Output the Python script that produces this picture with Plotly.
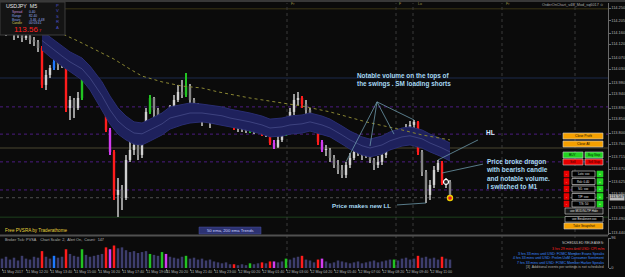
import plotly.graph_objects as go

W, H = 625, 277
def X(px): return px / W
def Y(py): return 1 - py / H

# ---------------- data ----------------
open_first = 114.189
close = [114.178, 114.164, 114.171, 114.153, 114.160, 114.142, 114.149, 114.135, 114.128, 114.106,
         113.973, 114.009, 114.034, 114.056, 114.045, 114.056, 113.890, 113.919, 113.890, 113.926,
         114.016, 114.009, 113.991, 113.962, 113.937, 113.912, 113.811, 113.732, 113.577, 113.595,
         113.566, 113.703, 113.739, 113.757, 113.721, 113.775, 113.876, 113.926, 113.883, 113.811,
         113.861, 113.822, 113.883, 113.919, 113.948, 113.937, 113.969, 113.919, 113.890, 113.876,
         113.847, 113.876, 113.847, 113.854, 113.865, 113.876, 113.865, 113.847, 113.818, 113.829,
         113.818, 113.807, 113.822, 113.811, 113.829, 113.796, 113.804, 113.764, 113.750, 113.775,
         113.800, 113.840, 113.876, 113.919, 113.926, 113.904, 113.883, 113.854, 113.829, 113.768,
         113.739, 113.739, 113.710, 113.685, 113.667, 113.649, 113.685, 113.710, 113.732, 113.739,
         113.721, 113.746, 113.703, 113.685, 113.696, 113.721, 113.746, 113.757, 113.786, 113.775,
         113.804, 113.818, 113.829, 113.840, 113.732, 113.660, 113.577, 113.613, 113.667, 113.692,
         113.620, 113.624, 113.570]
high = [114.200, 114.189, 114.185, 114.178, 114.171, 114.164, 114.160, 114.156, 114.146, 114.135,
        114.113, 114.027, 114.045, 114.070, 114.063, 114.070, 114.063, 113.933, 113.926, 113.948,
        114.045, 114.056, 114.027, 113.998, 113.973, 113.948, 113.919, 113.818, 113.739, 113.638,
        113.613, 113.721, 113.775, 113.782, 113.768, 113.793, 113.890, 113.937, 113.930, 113.890,
        113.872, 113.868, 113.901, 113.937, 113.973, 113.991, 114.016, 113.976, 113.926, 113.908,
        113.883, 113.890, 113.883, 113.872, 113.890, 113.894, 113.883, 113.876, 113.858, 113.847,
        113.840, 113.840, 113.832, 113.832, 113.847, 113.840, 113.818, 113.811, 113.775, 113.789,
        113.811, 113.854, 113.890, 113.940, 113.948, 113.933, 113.919, 113.890, 113.865, 113.847,
        113.775, 113.757, 113.746, 113.721, 113.703, 113.685, 113.696, 113.728, 113.750, 113.757,
        113.746, 113.760, 113.753, 113.710, 113.717, 113.739, 113.760, 113.775, 113.796, 113.800,
        113.818, 113.832, 113.843, 113.847, 113.843, 113.739, 113.667, 113.631, 113.681, 113.703,
        113.699, 113.638, 113.631]
low = [114.160, 114.149, 114.153, 114.135, 114.142, 114.128, 114.135, 114.120, 114.113, 114.092,
       113.962, 113.955, 113.998, 114.027, 114.027, 114.034, 113.876, 113.847, 113.854, 113.883,
       113.919, 113.991, 113.973, 113.944, 113.919, 113.890, 113.804, 113.721, 113.559, 113.498,
       113.523, 113.559, 113.696, 113.721, 113.703, 113.710, 113.768, 113.868, 113.854, 113.804,
       113.796, 113.814, 113.818, 113.876, 113.912, 113.926, 113.930, 113.901, 113.865, 113.854,
       113.825, 113.840, 113.818, 113.832, 113.847, 113.854, 113.847, 113.832, 113.811, 113.804,
       113.804, 113.800, 113.800, 113.796, 113.804, 113.789, 113.786, 113.757, 113.742, 113.746,
       113.768, 113.789, 113.829, 113.865, 113.901, 113.890, 113.868, 113.840, 113.818, 113.757,
       113.732, 113.717, 113.696, 113.674, 113.652, 113.638, 113.638, 113.674, 113.703, 113.717,
       113.703, 113.710, 113.692, 113.667, 113.674, 113.685, 113.710, 113.739, 113.750, 113.757,
       113.764, 113.793, 113.807, 113.818, 113.721, 113.645, 113.548, 113.559, 113.602, 113.660,
       113.613, 113.602, 113.566]
volume = [30, 36, 27, 33, 24, 39, 30, 27, 36, 33,
          54, 36, 30, 39, 33, 36, 60, 45, 39, 36,
          60, 42, 36, 39, 42, 45, 66, 60, 72, 63,
          66, 57, 51, 54, 48, 51, 54, 45, 42, 39,
          51, 45, 36, 33, 30, 36, 39, 30, 33, 27,
          30, 24, 27, 21, 18, 15, 18, 12, 12, 9,
          12, 9, 15, 12, 15, 18, 15, 21, 21, 18,
          21, 30, 27, 33, 36, 39, 27, 24, 18, 27,
          30, 21, 15, 18, 24, 21, 18, 15, 18, 21,
          15, 18, 21, 24, 18, 21, 24, 27, 27, 24,
          30, 33, 27, 30, 39, 33, 36, 30, 33, 27,
          36, 30, 27]
red_idx = [10, 16, 26, 28, 58, 65, 67, 75, 79, 104, 110]
magenta_idx = [27, 41, 68, 80]
blue_idx = [13]
green_idx = [20, 37, 40, 46, 62, 71, 98]

dragon_idx = [10, 12, 15, 17, 20, 22, 25, 27, 29, 31, 33, 35, 37, 40, 42, 45, 47, 50, 52, 55,
              57, 60, 62, 65, 67, 70, 72, 75, 77, 80, 82, 85, 87, 90, 92, 95, 97, 100, 102, 105,
              107, 110, 112]
dragon_top = [114.167, 114.146, 114.113, 114.092, 114.070, 114.041, 113.984, 113.933, 113.890, 113.861,
              113.840, 113.836, 113.850, 113.872, 113.894, 113.901, 113.908, 113.904, 113.901, 113.894,
              113.886, 113.879, 113.872, 113.861, 113.850, 113.854, 113.861, 113.865, 113.872, 113.861,
              113.850, 113.825, 113.807, 113.786, 113.778, 113.789, 113.804, 113.818, 113.822, 113.811,
              113.796, 113.778, 113.764]
dragon_bot = [114.099, 114.074, 114.041, 114.020, 113.991, 113.955, 113.883, 113.832, 113.796, 113.775,
              113.760, 113.757, 113.771, 113.793, 113.814, 113.829, 113.836, 113.840, 113.836, 113.829,
              113.822, 113.814, 113.807, 113.796, 113.786, 113.789, 113.796, 113.800, 113.807, 113.796,
              113.786, 113.760, 113.742, 113.721, 113.714, 113.724, 113.739, 113.753, 113.757, 113.746,
              113.732, 113.714, 113.699]
dragon_mid = [114.133, 114.110, 114.077, 114.056, 114.031, 113.998, 113.934, 113.883, 113.843, 113.818,
              113.800, 113.797, 113.811, 113.833, 113.854, 113.865, 113.872, 113.872, 113.869, 113.862,
              113.854, 113.847, 113.840, 113.829, 113.818, 113.822, 113.829, 113.833, 113.840, 113.829,
              113.818, 113.793, 113.775, 113.754, 113.746, 113.757, 113.772, 113.786, 113.790, 113.779,
              113.764, 113.746, 113.732]
ema200_idx = [14, 19, 24, 28, 32, 35, 40, 45, 50, 54, 62, 70, 75, 82, 91, 100, 105, 112]
ema200 = [114.164, 114.131, 114.095, 114.066, 114.030, 114.005, 113.984, 113.969, 113.962, 113.948,
          113.926, 113.908, 113.897, 113.876, 113.840, 113.811, 113.793, 113.775]

price_ticks = [114.250, 114.205, 114.160, 114.120, 114.070, 114.030, 113.980, 113.940, 113.890, 113.850,
               113.800, 113.760, 113.715, 113.670, 113.625, 113.580, 113.530, 113.490, 113.440]
time_labels = ["11 May 2017", "11 May 12:20", "11 May 13:40", "11 May 15:00", "11 May 16:20",
               "11 May 17:40", "11 May 19:00", "11 May 20:20", "11 May 21:40", "11 May 23:00",
               "12 May 00:20", "12 May 01:40", "12 May 03:00", "12 May 04:20", "12 May 05:40",
               "12 May 07:00", "12 May 08:20", "12 May 09:40", "12 May 11:00"]
tick_idx = [0, 6, 12, 18, 24, 30, 36, 41, 47, 53, 59, 65, 71, 77, 83, 89, 95, 101, 107]
bid_price = 113.567
purple_levels = [113.894, 113.796, 113.696, 113.595]
session_lines = [71.25, 98.5, 102.75, 125, 143.25]
swing_idx = [86, 92, 98, 103]

# ---------------- derived drawing arrays ----------------
n = len(close)
xs = list(range(n))
opens = [open_first] + close[:-1]
COL = {'r': '#ff1c1c', 'm': '#d23cf0', 'b': '#1e78ff', 'g': '#22c322'}
cls = ['n'] * n
for i in red_idx: cls[i] = 'r'
for i in magenta_idx: cls[i] = 'm'
for i in blue_idx: cls[i] = 'b'
for i in green_idx: cls[i] = 'g'
body_col, wick_col, vol_col = [], [], []
for i in range(n):
    if cls[i] == 'n':
        body_col.append('#d0d0d0' if close[i] >= opens[i] else '#858585')
        wick_col.append('#9a9a9a')
        vol_col.append('#3d3d6c')
    else:
        body_col.append(COL[cls[i]]); wick_col.append(COL[cls[i]]); vol_col.append(COL[cls[i]])
body_base = [min(o, c) for o, c in zip(opens, close)]
body_h = [max(abs(c - o), 0.0015) for o, c in zip(opens, close)]
wick_h = [h - l for h, l in zip(high, low)]

fig = go.Figure()
# dragon band
fig.add_trace(go.Scatter(x=dragon_idx, y=dragon_bot, mode='lines',
                         line=dict(color='#292d72', width=1), hoverinfo='skip'))
fig.add_trace(go.Scatter(x=dragon_idx, y=dragon_top, mode='lines', fill='tonexty',
                         fillcolor='#1e215c',
                         line=dict(color='#292d72', width=1), hoverinfo='skip'))
fig.add_trace(go.Scatter(x=dragon_idx, y=dragon_mid, mode='lines',
                         line=dict(color='#4a508e', width=0.7), hoverinfo='skip'))
# 200 ema dotted
fig.add_trace(go.Scatter(x=ema200_idx, y=ema200, mode='lines',
                         line=dict(color='#8a8632', width=1, dash='dot'), hoverinfo='skip'))
# candles
fig.add_trace(go.Bar(x=xs, y=wick_h, base=low, width=0.28, marker=dict(color=wick_col, line=dict(width=0)),
                     hoverinfo='skip'))
fig.add_trace(go.Bar(x=xs, y=body_h, base=body_base, width=0.6, marker=dict(color=body_col, line=dict(width=0)),
                     hoverinfo='skip'))
# markers on last candles
fig.add_trace(go.Scatter(x=[111], y=[close[111]], mode='markers',
                         marker=dict(size=5, color='#202020', line=dict(color='#ffffff', width=1.2)),
                         hoverinfo='skip'))
fig.add_trace(go.Scatter(x=[112], y=[low[112]], mode='markers',
                         marker=dict(size=5, color='#e02020', line=dict(color='#f0d000', width=1.4)),
                         hoverinfo='skip'))
# volume
fig.add_trace(go.Bar(x=xs, y=volume, width=0.62, marker=dict(color=vol_col, line=dict(width=0)),
                     xaxis='x2', yaxis='y2', hoverinfo='skip'))

shapes = []
ann = []
FF = 'Liberation Sans'
RIGHT = 608  # pixel x of the price axis

# level lines
def hline(v, color, dash='solid'):
    shapes.append(dict(type='line', xref='x domain', x0=0, x1=1, yref='y', y0=v, y1=v,
                       line=dict(color=color, width=1, dash=dash), layer='below'))
hline(114.247, '#3c3616')
hline(113.998, '#1c2a4c')
for lv in purple_levels:
    hline(lv, '#4c1c80', 'dot')
hline(113.746, '#4a4630')
hline(bid_price, '#505050', 'dot')
hline(113.497, '#1d401d')
for sx in session_lines:
    shapes.append(dict(type='line', xref='x', x0=sx, x1=sx, yref='paper', y0=Y(268), y1=Y(3),
                       line=dict(color='#3a3a3a', width=1, dash='dot'), layer='below'))

# frame pieces
shapes.append(dict(type='rect', xref='paper', yref='paper', x0=0, x1=1, y0=Y(2), y1=1,
                   fillcolor='#383838', line=dict(width=0)))
shapes.append(dict(type='rect', xref='paper', yref='paper', x0=0, x1=X(RIGHT), y0=Y(236.5), y1=Y(234.5),
                   fillcolor='#505050', line=dict(width=0)))

# top-left info box
shapes.append(dict(type='rect', xref='paper', yref='paper', x0=0, x1=X(65), y0=Y(35), y1=Y(2),
                   fillcolor='#141414', line=dict(color='#3c3c3c', width=1)))
ann.append(dict(x=X(4), y=Y(6), text='USDJPY  M5', font=dict(size=5.3, color='#e8e8e8', family=FF)))
rows = [('Spread', '0.40', '#c58bd8'), ('Range', '82.40', '#8aa0e8'),
        ('Bears', '-3.46 -4.48', '#8aa0e8'), ('Candle', '00:03:41', '#d8c858')]
for k, (lab, val, c) in enumerate(rows):
    yy = 11.5 + 4 * k
    ann.append(dict(x=X(10), y=Y(yy), text=lab, font=dict(size=3.2, color=c, family=FF)))
    ann.append(dict(x=X(27), y=Y(yy), text=val, font=dict(size=3.2, color='#9bb0f0', family=FF)))
ann.append(dict(x=X(12), y=Y(29.5), text="113.56<span style='font-size:4px'> 7</span>",
                font=dict(size=8, color='#ff2020', family=FF)))
ann.append(dict(x=X(58), y=Y(17), xanchor='center', text='P<br>V<br>S<br>R<br>A',
                font=dict(size=4.2, color='#4e52c8', family=FF)))

# top small labels
for px_, t in [(289, 'Fr'), (397, 'F'), (416, 'Lo'), (504, 'Fr')]:
    ann.append(dict(x=X(px_), y=Y(4), text=t, font=dict(size=3.5, color='#a09448', family=FF)))
ann.append(dict(x=X(606), y=Y(4.5), xanchor='right', text='OrderOnChart_v4B_Mod_sq6017 ☺',
                font=dict(size=3.8, color='#a8a8a8', family=FF)))

# bottom-left texts
ann.append(dict(x=X(3), y=Y(230.5), text='Free PVSRA by Traderathome', font=dict(size=4.6, color='#e6d23c', family=FF)))
shapes.append(dict(type='rect', xref='paper', yref='paper', x0=X(199), x1=X(261), y0=Y(234), y1=Y(227),
                   fillcolor='#2c3272', line=dict(color='#4a50a0', width=0.5)))
ann.append(dict(x=X(230), y=Y(230.5), xanchor='center', text='50 ema, 200 ema Trends',
                font=dict(size=4.2, color='#ccd2ff', family=FF)))
ann.append(dict(x=X(3), y=Y(239.5), text='Broker Tick: PVSA    Chart Scale: 2,  Alert On,  Count:  147',
                font=dict(size=3.8, color='#b4b4b4', family=FF)))

# news
news = [('SCHEDULED RELEASES:', '#c8c8c8', 243), ('3 hrs 29 mins until USD: CPI m/m', '#ff2020', 248.5),
        ('3 hrs 33 mins until USD: FOMC Member Evans Speaks', '#3c8cff', 253.5),
        ('4 hrs 33 mins until USD: Prelim UoM Consumer Sentiment', '#3c8cff', 258),
        ('7 hrs 33 mins until USD: FOMC Member Harker Speaks', '#3c8cff', 262.5),
        ('[3]  Additional events per settings is not scheduled', '#b0b0b0', 267)]
for t, c, yy in news:
    ann.append(dict(x=X(606), y=Y(yy), xanchor='right', text=t, font=dict(size=3.5, color=c, family=FF)))

# price tag
ann.append(dict(x=X(RIGHT + 1), y=bid_price, xref='paper', yref='y', xanchor='left', text='113.567',
                bgcolor='#b8b8b8', borderpad=0.3, font=dict(size=3.8, color='#000000', family=FF)))

# buttons
def button(x0, y0, x1, y1, text, fill, tc, border='#d0d0d0', fs=3.3):
    shapes.append(dict(type='rect', xref='paper', yref='paper', x0=X(x0), x1=X(x1), y0=Y(y1), y1=Y(y0),
                       fillcolor=fill, line=dict(color=border, width=0.6)))
    ann.append(dict(x=X((x0 + x1) / 2), y=Y((y0 + y1) / 2), xanchor='center', text=text,
                    font=dict(size=fs, color=tc, family=FF)))
button(563, 133, 603, 139, 'Close Profit', '#f5a000', '#201000')
button(563, 141, 603, 147, 'Close All', '#f5a000', '#201000')
button(563, 152, 583, 158, 'BUY', '#22d422', '#002000')
button(585, 152, 603, 158, 'Buy Stop', '#22d422', '#002000', fs=3)
button(563, 159, 583, 165, 'Sell', '#e80000', '#300000')
button(585, 159, 603, 165, 'Sell Stop', '#e80000', '#300000', fs=3)
for k, t in enumerate(['Lots: xxx', 'Rsk: 0.40', 'S/L: xxx', 'T/P: xxx', 'T/S: 50']):
    y0 = 171 + 7.5 * k
    button(564, y0, 569, y0 + 6, '-', '#e80000', '#ffffff', border='#e80000', fs=3)
    button(572, y0, 595, y0 + 6, t, '#000000', '#e0e0e0', border='#e0e0e0', fs=2.9)
    button(597, y0, 603, y0 + 6, '+', '#22d422', '#ffffff', border='#22d422', fs=3)
button(565, 208, 603, 214, 'use MOD/SL/TP Hide', '#1a1a1a', '#e0e0e0', fs=2.9)
button(565, 216.5, 603, 222, 'use Breakeven xxx', '#000000', '#e0e0e0', fs=2.9)
button(564, 223, 603, 229, 'Take Snapshot', '#f5a000', '#201000')

# comments and pointer lines
TXT = '#a6d8f2'
LN = '#6c98aa'
ann.append(dict(x=X(355), y=Y(79.5), xanchor='left', yanchor='middle', align='left',
                text='<b>Notable volume on the tops of<br>the swings . SM loading shorts</b>',
                font=dict(size=6.4, color=TXT, family=FF)))
apex = (93.75, 113.912)
for si in swing_idx:
    shapes.append(dict(type='line', xref='x', yref='y', x0=apex[0], y0=apex[1], x1=si, y1=high[si],
                       line=dict(color=LN, width=0.8)))
ann.append(dict(x=X(484), y=Y(133), xanchor='left', yanchor='middle', text='<b>HL</b>',
                font=dict(size=6.5, color='#d8ecff', family=FF)))
shapes.append(dict(type='line', xref='x', yref='y', x0=119, y0=113.775, x1=109, y1=high[109],
                   line=dict(color=LN, width=0.8)))
ann.append(dict(x=X(484), y=Y(173.5), xanchor='left', yanchor='middle', align='left',
                text='<b>Price broke dragon<br>with bearish candle<br>and notable volume.<br>I switched to M1</b>',
                font=dict(size=6.5, color=TXT, family=FF)))
shapes.append(dict(type='line', xref='x', yref='y', x0=120.25, y0=113.688, x1=110,
                   y1=(opens[110] + close[110]) / 2, line=dict(color=LN, width=0.8)))
ann.append(dict(x=X(330), y=Y(205), xanchor='left', yanchor='middle', text='<b>Price makes new LL</b>',
                font=dict(size=6.2, color=TXT, family=FF)))
shapes.append(dict(type='line', xref='x', yref='y', x0=98.75, y0=113.541, x1=106, y1=low[106],
                   line=dict(color=LN, width=0.8)))

for a in ann:
    a.setdefault('xref', 'paper'); a.setdefault('yref', 'paper')
    a.setdefault('xanchor', 'left'); a.setdefault('yanchor', 'middle')
    a['showarrow'] = False

AX = dict(showgrid=False, zeroline=False, automargin=False)
fig.update_layout(
    template='none', width=W, height=H, margin=dict(l=0, r=0, t=0, b=0),
    paper_bgcolor='#0b0b0b', plot_bgcolor='#0b0b0b', showlegend=False, barmode='overlay',
    hovermode=False, shapes=shapes, annotations=ann,
    xaxis=dict(AX, domain=[0, X(RIGHT)], range=[-0.5, 151.5], showticklabels=False, anchor='y'),
    yaxis=dict(AX, domain=[Y(235), Y(3)], range=[113.4328, 114.268], side='right', anchor='x',
               tickvals=price_ticks, ticktext=[f'{v:.3f}' for v in price_ticks],
               showline=True, linecolor='#6a6a6a', linewidth=1, ticks='outside', ticklen=1.5,
               tickcolor='#6a6a6a', tickfont=dict(size=3.9, color='#b4b4b4', family=FF)),
    xaxis2=dict(AX, domain=[0, X(RIGHT)], matches='x', anchor='y2', tickvals=tick_idx,
                ticktext=time_labels, ticklabelposition='outside right', ticks='outside', ticklen=2,
                tickangle=0, tickcolor='#6a6a6a', showline=False,
                tickfont=dict(size=3.6, color='#b4b4b4', family=FF)),
    yaxis2=dict(AX, domain=[Y(268), Y(238)], range=[0, 96], side='right', anchor='x2',
                tickvals=[0, 96], ticktext=['0', '96'], showline=True, linecolor='#6a6a6a',
                linewidth=1, ticks='outside', ticklen=1.5, tickcolor='#6a6a6a',
                tickfont=dict(size=3.9, color='#b4b4b4', family=FF)),
)
fig.write_html('out.html')
